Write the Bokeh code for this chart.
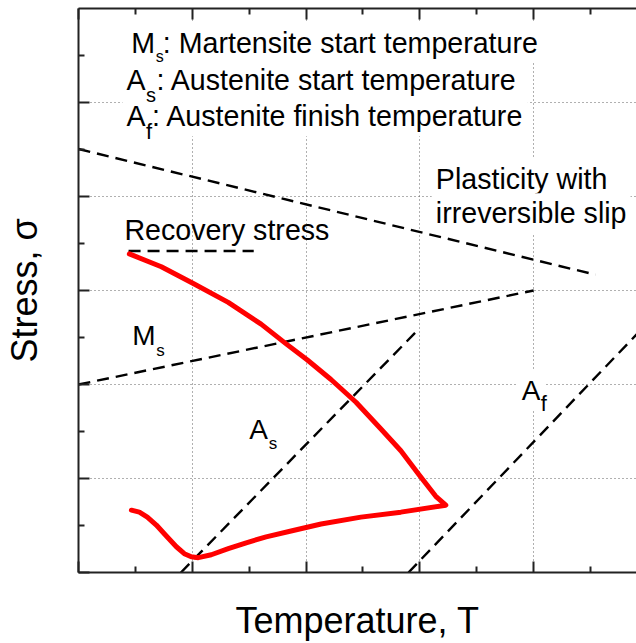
from bokeh.plotting import figure
from bokeh.models import Range1d, LinearAxis, FixedTicker, ColumnDataSource, CustomLabelingPolicy
from bokeh.core.properties import value
from bokeh.embed import file_html
from bokeh.resources import INLINE

# ---------------- data (temperature / stress, arbitrary units) ----------------
# red recovery-stress loop: upper branch (from the recovery stress down to the tip)
upper_T = [0.447, 0.728, 1.009, 1.316, 1.605, 1.825, 2.009, 2.219, 2.439, 2.658, 2.833, 2.991, 3.140, 3.228]
upper_S = [3.389, 3.253, 3.074, 2.874, 2.642, 2.432, 2.263, 2.053, 1.811, 1.526, 1.295, 1.042, 0.811, 0.716]
# lower branch (from the tip back to the left end)
lower_T = [3.228, 2.833, 2.482, 2.132, 1.868, 1.649, 1.474, 1.316, 1.167, 1.053, 0.991, 0.930, 0.860,
           0.772, 0.684, 0.605, 0.535, 0.465]
lower_S = [0.716, 0.642, 0.589, 0.516, 0.442, 0.379, 0.316, 0.253, 0.189, 0.158, 0.168, 0.200, 0.274,
           0.389, 0.505, 0.589, 0.642, 0.663]

# dashed boundary lines
slip_T = [0.0, 4.544]
slip_S = [4.505, 3.168]
ms_T = [0.0, 4.0]
ms_S = [2.0, 3.0]
as_T = [0.9, 2.982]
as_S = [0.0, 2.579]
af_T = [2.9, 4.95]
af_S = [0.0, 2.59]
recovery_T = [0.44, 1.54]
recovery_S = [3.42, 3.42]

x_major = [0, 1, 2, 3, 4]
x_minor = [0.5, 1.5, 2.5, 3.5, 4.5]
y_major = [0, 1, 2, 3, 4, 5]
y_minor = [0.5, 1.5, 2.5, 3.5, 4.5, 5.5]
x_grid = [1, 2, 3, 4]
y_grid = [1, 2, 3, 4, 5]

FONT = "Liberation Sans"

p = figure(width=636, height=643, x_range=Range1d(0, 4.904), y_range=Range1d(0, 6),
           output_backend="svg", toolbar_location=None,
           min_border_left=77, min_border_right=0, min_border_top=8, min_border_bottom=65,
           outline_line_color=None, background_fill_color="white", border_fill_color="white")

no_labels = CustomLabelingPolicy(code="return null")

def style_axis(ax):
    ax.axis_line_color = "#222222"
    ax.axis_line_width = 2
    ax.major_tick_line_color = "#222222"
    ax.major_tick_line_width = 2
    ax.minor_tick_line_color = "#222222"
    ax.minor_tick_line_width = 2
    ax.major_tick_in = 11
    ax.major_tick_out = 0
    ax.minor_tick_in = 6
    ax.minor_tick_out = 0
    ax.major_label_text_font_size = "1px"
    ax.major_label_standoff = 0
    ax.major_label_policy = no_labels
    ax.axis_label_text_font = FONT
    ax.axis_label_text_font_style = "normal"
    ax.axis_label_text_font_size = "36px"
    ax.axis_label_text_color = "black"

xa = p.xaxis[0]
xa.ticker = FixedTicker(ticks=x_major, minor_ticks=x_minor)
style_axis(xa)
xa.axis_label = "Temperature, T"
xa.axis_label_standoff = 23

ya = p.yaxis[0]
ya.ticker = FixedTicker(ticks=y_major, minor_ticks=y_minor)
style_axis(ya)
ya.axis_label = "Stress, σ"
ya.axis_label_standoff = 30

top = LinearAxis(ticker=FixedTicker(ticks=x_major, minor_ticks=x_minor))
style_axis(top)
p.add_layout(top, "above")

# grid
p.xgrid.ticker = FixedTicker(ticks=x_grid)
p.ygrid.ticker = FixedTicker(ticks=y_grid)
for g in (p.xgrid, p.ygrid):
    g.grid_line_color = "#606060"
    g.grid_line_dash = "1 3"
    g.grid_line_width = 1

# dashed lines
for xs, ys in [(slip_T, slip_S), (ms_T, ms_S), (as_T, as_S), (af_T, af_S), (recovery_T, recovery_S)]:
    p.line(xs, ys, line_color="black", line_width=2.4, line_dash="12 7")

# red loop
p.line(upper_T + lower_T, upper_S + lower_S, line_color="#ff0000", line_width=5,
       line_join="round", line_cap="round")

# ---------------- texts ----------------
common = dict(x="x", y="y", text="text", text_font=value(FONT), text_font_size="size",
              text_baseline="alphabetic", text_align="left", x_offset="dx", y_offset="dy",
              text_color="black", background_fill_color="white")

# 1) main letters and free labels (padded white boxes)
letters = ColumnDataSource(dict(
    x=[0.482, 0.439, 0.439, 3.158, 3.158, 0.491, 1.518, 3.912],
    y=[5.547, 5.158, 4.768, 4.105, 3.737, 2.432, 1.432, 1.853],
    text=["M", "A", "A", "Plasticity with", "irreversible slip", "M", "A", "A"],
    size=["28.6px", "28.6px", "28.6px", "28.6px", "28.6px", "28px", "28px", "28px"],
    dx=[-6, -6, -6, -6, -6, -6, -6, -6],
    dy=[-8, -8, -8, -8, -8, -8, -8, -8],
))
p.text(source=letters, padding=4, **common)

# 2) rest of the legend lines (padded white boxes)
rest = ColumnDataSource(dict(
    x=[0.482, 0.439, 0.439],
    y=[5.547, 5.158, 4.768],
    text=[": Martensite start temperature", ": Austenite start temperature", ": Austenite finish temperature"],
    size=["28.6px", "28.6px", "28.6px"],
    dx=[25.5, 24, 19.5],
    dy=[-8, -8, -8],
))
p.text(source=rest, padding=4, **common)

# 3) subscripts (unpadded boxes, drawn last)
subs = ColumnDataSource(dict(
    x=[0.482, 0.439, 0.439, 0.491, 1.518, 3.912],
    y=[5.547, 5.158, 4.768, 2.432, 1.432, 1.853],
    text=["s", "s", "f", "s", "s", "f"],
    size=["16px", "20px", "22px", "17px", "17px", "22px"],
    dx=[22.5, 17.5, 17.5, 22, 17.5, 17],
    dy=[5.5, 7.4, 6.8, 6.2, 5.2, 4.8],
))
p.text(source=subs, padding=0, **common)

p.text(x=[0.421], y=[3.558], text=["Recovery stress"], text_font=value(FONT),
       text_font_size="28.6px", text_baseline="alphabetic", text_align="left", text_color="black",
       x_offset=-2, y_offset=-8)

open("out.html", "w").write(file_html(p, INLINE))
